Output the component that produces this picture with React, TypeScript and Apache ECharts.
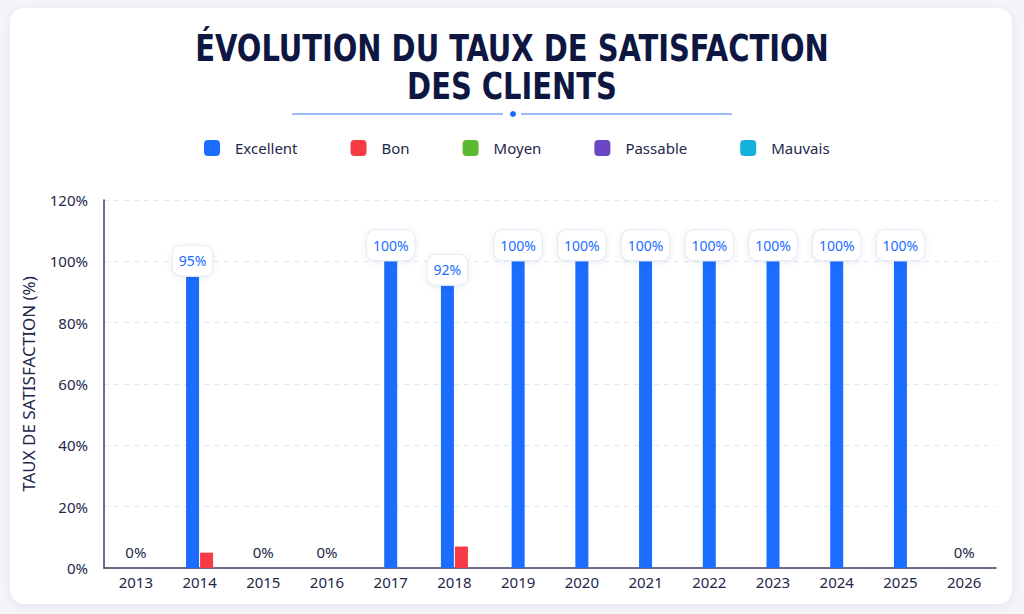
import React, { useEffect, useRef } from "react";
import * as echarts from "echarts";

const years = ["2013", "2014", "2015", "2016", "2017", "2018", "2019", "2020", "2021", "2022", "2023", "2024", "2025", "2026"];
const seriesNames = ["Excellent", "Bon", "Moyen", "Passable", "Mauvais"];
const excellent = [0, 95, 0, 0, 100, 92, 100, 100, 100, 100, 100, 100, 100, 0];
const bon = [0, 5, 0, 0, 0, 7, 0, 0, 0, 0, 0, 0, 0, 0];
const moyen = [0, 0, 0, 0, 0, 0, 0, 0, 0, 0, 0, 0, 0, 0];
const passable = [0, 0, 0, 0, 0, 0, 0, 0, 0, 0, 0, 0, 0, 0];
const mauvais = [0, 0, 0, 0, 0, 0, 0, 0, 0, 0, 0, 0, 0, 0];
const yTicks = [0, 20, 40, 60, 80, 100, 120];
const titleText = "ÉVOLUTION DU TAUX DE SATISFACTION\nDES CLIENTS";

const SERIES = [excellent, bon, moyen, passable, mauvais];
const COLORS = ["#1a6dff", "#f63b45", "#5bb832", "#6c44c6", "#12b2dc"];
const FONT = "'Noto Sans', 'Open Sans', sans-serif";
const TEXT = "#23284a";

function makeRender(s: number) {
  return (params: any, api: any) => {
    const i = api.value(0);
    const v = api.value(1);
    const active: number[] = [];
    SERIES.forEach((arr, k) => {
      if (arr[i] > 0) active.push(k);
    });
    const base = api.coord([i, 0]);
    if (!(v > 0)) {
      if (s === 0 && active.length === 0) {
        return {
          type: "text",
          x: base[0],
          y: base[1] - 16,
          style: {
            text: v + "%",
            fill: TEXT,
            fontSize: 15,
            fontFamily: FONT,
            align: "center",
            verticalAlign: "middle",
          },
        };
      }
      return { type: "group", children: [] };
    }
    const pos = active.indexOf(s);
    const n = active.length;
    const bw = 13;
    const gap = 1;
    const total = n * bw + (n - 1) * gap;
    const x0 = base[0] - total / 2 + pos * (bw + gap);
    const top = api.coord([i, v]);
    const el: any = {
      type: "rect",
      shape: { x: x0, y: top[1], width: bw, height: base[1] - top[1] },
      style: { fill: COLORS[s] },
    };
    if (s === 0) {
      el.textContent = {
        style: {
          text: v + "%",
          fill: "#1a6dff",
          fontSize: 14,
          fontFamily: FONT,
          backgroundColor: "#ffffff",
          borderColor: "#e3e9f4",
          borderWidth: 1,
          borderRadius: 8,
          padding: [8, 6, 8, 6],
          shadowBlur: 6,
          shadowColor: "rgba(30,60,120,0.08)",
          shadowOffsetY: 1,
        },
      };
      el.textConfig = { position: "top", distance: 1 };
    }
    return el;
  };
}

export default function App() {
  const ref = useRef<HTMLDivElement>(null);
  useEffect(() => {
    if (!ref.current) return;
    const chart = echarts.init(ref.current, null, { renderer: "svg" });
    chart.setOption({
      animation: false,
      backgroundColor: "transparent",
      legend: {
        top: 135,
        left: 199,
        icon: "roundRect",
        itemWidth: 16,
        itemHeight: 16,
        itemGap: 53,
        data: seriesNames,
        textStyle: { fontSize: 15, color: TEXT, fontFamily: FONT, padding: [0, 0, 0, 10] },
      },
      graphic: [
        {
          type: "text",
          x: 512,
          y: 67,
          scaleX: 0.87,
          style: {
            text: titleText,
            align: "center",
            verticalAlign: "middle",
            fontSize: 37,
            fontWeight: 700,
            lineHeight: 38,
            fill: "#0d1742",
            fontFamily: "'DejaVu Sans Condensed', 'DejaVu Sans', sans-serif",
          },
        },
        { type: "line", shape: { x1: 292, y1: 114, x2: 503, y2: 114 }, style: { stroke: "#3a7af0", lineWidth: 1.2 } },
        { type: "circle", shape: { cx: 513, cy: 114, r: 3 }, style: { fill: "#1a6dff" } },
        { type: "line", shape: { x1: 521, y1: 114, x2: 732, y2: 114 }, style: { stroke: "#3a7af0", lineWidth: 1.2 } },
      ],
      grid: { left: 104, right: 28, top: 200, bottom: 46, containLabel: false },
      xAxis: {
        type: "category",
        data: years,
        axisLine: { show: true, lineStyle: { color: "#3b3f5e", width: 1.5 } },
        axisTick: { show: false },
        axisLabel: { fontSize: 15, color: TEXT, fontFamily: FONT, margin: 6 },
      },
      yAxis: {
        type: "value",
        min: yTicks[0],
        max: yTicks[yTicks.length - 1],
        interval: yTicks[1] - yTicks[0],
        name: "TAUX DE SATISFACTION (%)",
        nameLocation: "middle",
        nameGap: 67,
        nameTextStyle: { fontSize: 17, color: TEXT, fontFamily: FONT },
        axisLine: { show: true, lineStyle: { color: "#3b3f5e", width: 1.5 } },
        axisTick: { show: false },
        axisLabel: { fontSize: 15, color: TEXT, fontFamily: FONT, margin: 16, formatter: "{value}%" },
        splitLine: { show: true, lineStyle: { color: "#dde7f7", type: [5, 5], width: 1 } },
      },
      series: seriesNames.map((name, s) => ({
        name,
        type: "custom",
        renderItem: makeRender(s),
        encode: { x: 0, y: 1 },
        itemStyle: { color: COLORS[s] },
        data: SERIES[s].map((v, i) => [i, v]),
        z: s === 0 ? 3 : 2,
      })),
    });
    return () => chart.dispose();
  }, []);

  return (
    <div style={{ position: "fixed", left: 0, top: 0, width: 1024, height: 614, background: "#f3f5f9", overflow: "hidden" }}>
      <div
        style={{
          position: "absolute",
          left: 10,
          top: 8,
          width: 1002,
          height: 596,
          borderRadius: 14,
          background: "#ffffff",
          boxShadow: "0 2px 10px rgba(20,40,90,0.08)",
        }}
      />
      <div ref={ref} style={{ position: "absolute", left: 0, top: 0, width: 1024, height: 614 }} />
    </div>
  );
}
